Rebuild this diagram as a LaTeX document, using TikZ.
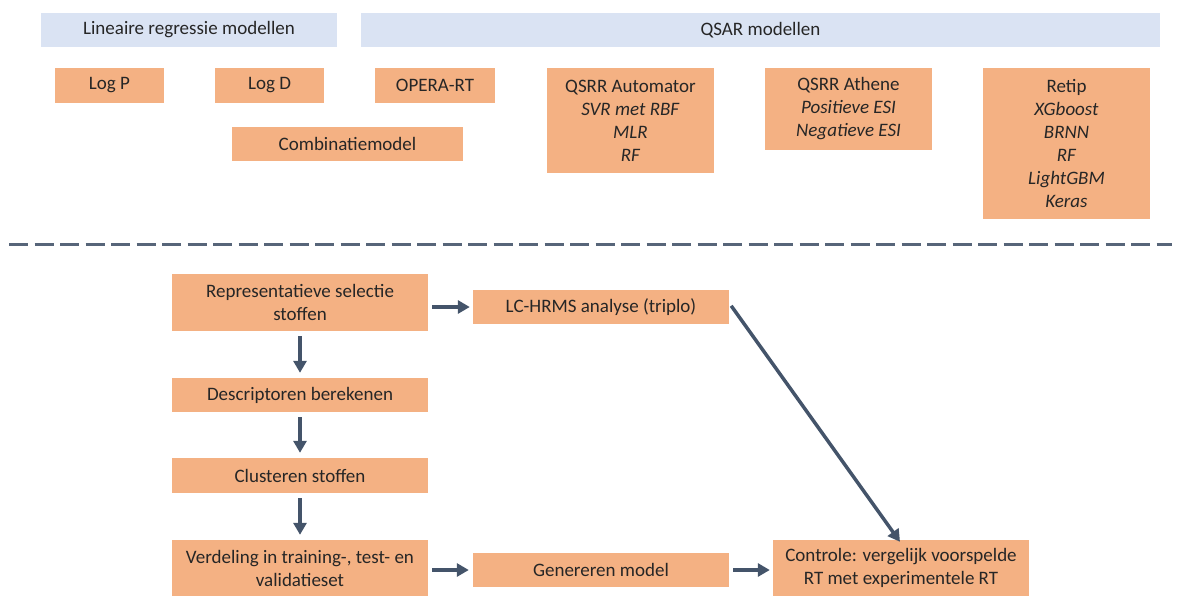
\documentclass[tikz,border=0pt]{standalone}
\usepackage{fontspec}
\setmainfont{Carlito}
\usetikzlibrary{arrows.meta}
\definecolor{boxor}{HTML}{F4B183}
\definecolor{boxbl}{HTML}{DAE3F3}
\definecolor{arr}{HTML}{44546A}
\definecolor{txt}{HTML}{262626}
\tikzset{
  obox/.style={fill=boxor, draw=none, inner sep=0pt, align=center, text=txt,
    font=\fontsize{19}{23}\selectfont},
  bbox/.style={fill=boxbl, draw=none, inner sep=0pt, align=center, text=txt,
    font=\fontsize{19}{23}\selectfont},
  flow/.style={draw=arr, line width=3.5pt, -{Triangle[length=12pt,width=13pt]}},
  sep/.style={draw=arr!90!white, line width=3pt, dash pattern=on 19pt off 6.5pt}
}
\newcommand{\bx}[6]{% name, style, x1, y1, x2, y2 ; text follows
  \node[#2, minimum width={#5-#3}, minimum height={#6-#4}] (#1) at ({(#3+#5)/2},{(#4+#6)/2+1})}
\begin{document}
\begin{tikzpicture}[x=1pt,y=-1pt]
\useasboundingbox (0,0) rectangle (1179,595);
% headers
\bx{hlin}{bbox}{41}{12}{337}{46} {Lineaire regressie modellen};
\bx{hqsar}{bbox}{361}{12}{1160}{46} {QSAR modellen};
% models
\bx{logp}{obox}{55}{67}{164}{102} {Log P};
\bx{logd}{obox}{215}{67}{324}{102} {Log D};
\bx{opera}{obox}{375}{67}{495}{102} {OPERA-RT};
\bx{comb}{obox}{232}{126}{463}{160} {Combinatiemodel};
\bx{auto}{obox}{547}{67}{714}{172} {QSRR Automator\\\textit{SVR met RBF}\\\textit{MLR}\\\textit{RF}};
\bx{athene}{obox}{765}{67}{932}{149} {QSRR Athene\\\textit{Positieve ESI}\\\textit{Negatieve ESI}};
\bx{retip}{obox}{983}{67}{1150}{218} {Retip\\\textit{XGboost}\\\textit{BRNN}\\\textit{RF}\\\textit{LightGBM}\\\textit{Keras}};
% separator
\coordinate (sl) at (9,244);
\coordinate (sr) at (1172,244);
\draw[sep] (sl) -- (sr);
% workflow
\bx{rep}{obox}{172}{273}{428}{330} {Representatieve selectie\\stoffen};
\bx{lc}{obox}{473}{289}{729}{323} {LC-HRMS analyse (triplo)};
\bx{desc}{obox}{172}{377}{428}{411} {Descriptoren berekenen};
\bx{clus}{obox}{172}{457}{428}{492} {Clusteren stoffen};
\bx{verd}{obox}{172}{539}{428}{595} {Verdeling in training-, test- en\\validatieset};
\bx{gen}{obox}{473}{552}{729}{586} {Genereren model};
\bx{ctrl}{obox}{773}{539}{1029}{595} {Controle: vergelijk voorspelde\\RT met experimentele RT};
% arrows
\draw[flow] ([xshift=4pt]rep.east |- lc.west) -- ([xshift=-3pt]lc.west);
\draw[flow] ([yshift=-5pt]rep.south -| desc.north) -- ([yshift=5pt]desc.north);
\draw[flow] ([yshift=-5pt]desc.south) -- ([yshift=5pt]clus.north);
\draw[flow] ([yshift=-5pt]clus.south) -- ([yshift=5pt]verd.north);
\draw[flow] ([xshift=4pt]verd.east |- gen.west) -- ([xshift=-4pt]gen.west);
\draw[flow] ([xshift=4pt]gen.east) -- ([xshift=-3pt]ctrl.west |- gen.east);
\draw[flow] ([xshift=2pt,yshift=-16pt]lc.north east) -- ([xshift=-1pt,yshift=-2pt]ctrl.north);
\end{tikzpicture}
\end{document}
